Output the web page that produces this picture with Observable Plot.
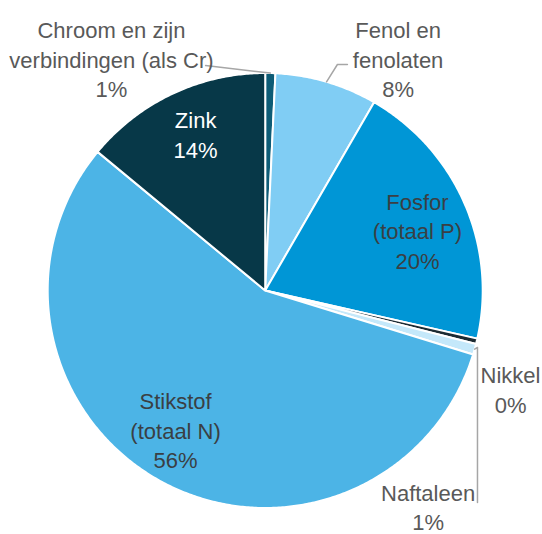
<!DOCTYPE html>
<html>
<head>
<meta charset="utf-8">
<script src="https://cdn.jsdelivr.net/npm/d3@7"></script>
<script src="https://cdn.jsdelivr.net/npm/@observablehq/plot@0.6"></script>
<style>
  html, body { margin: 0; padding: 0; background: #ffffff; }
  #chart svg { display: block; overflow: visible; }
</style>
</head>
<body>
<div id="chart"></div>
<script>
// ---- Data ----
const categories = [
  "Chroom en zijn verbindingen (als Cr)",
  "Fenol en fenolaten",
  "Fosfor (totaal P)",
  "Nikkel",
  "Naftaleen",
  "Stikstof (totaal N)",
  "Zink"
];
const shares = [0.75, 7.6, 20.2, 0.4, 0.8, 56.25, 14.0];
const labelNames = [
  "Chroom en zijn\nverbindingen (als Cr)",
  "Fenol en\nfenolaten",
  "Fosfor\n(totaal P)",
  "Nikkel",
  "Naftaleen",
  "Stikstof\n(totaal N)",
  "Zink"
];
const percentLabels = ["1%", "8%", "20%", "0%", "1%", "56%", "14%"];
const sliceColors = ["#0d5c76", "#80cdf4", "#0096d6", "#1c2b33", "#c4e8fa", "#4cb4e6", "#073848"];

// ---- Layout (label anchors in unit-circle coordinates) ----
const labelAt = {
  "Chroom en zijn verbindingen (als Cr)": [-0.707, 1.067],
  "Fenol en fenolaten": [0.611, 1.067],
  "Fosfor (totaal P)": [0.700, 0.280],
  "Nikkel": [1.128, -0.451],
  "Naftaleen": [0.749, -0.99],
  "Stikstof (totaal N)": [-0.412, -0.639],
  "Zink": [-0.320, 0.722]
};
const insideText = {
  "Fosfor (totaal P)": "#3a3f44",
  "Stikstof (totaal N)": "#3a3f44",
  "Zink": "#ffffff"
};
const leaderElbows = {
  "Chroom en zijn verbindingen (als Cr)": [[-0.274, 1.034]],
  "Fenol en fenolaten": [[0.332, 1.039], [0.378, 1.039]],
  "Naftaleen": [[0.976, -0.262], [0.976, -0.975]]
};

// ---- Build slices ----
const pie = d3.pie().sort(null).value(d => d.value).startAngle(0).endAngle(2 * Math.PI);
const arcs = pie(categories.map((c, i) => ({key: c, value: shares[i]})));

const slicePoints = [];
arcs.forEach(a => {
  const key = a.data.key;
  slicePoints.push({key, x: 0, y: 0});
  const n = Math.max(4, Math.ceil((a.endAngle - a.startAngle) / (Math.PI / 360)));
  for (let k = 0; k <= n; k++) {
    const t = a.startAngle + (a.endAngle - a.startAngle) * k / n;
    slicePoints.push({key, x: Math.sin(t), y: Math.cos(t)});
  }
  slicePoints.push({key, x: 0, y: 0});
});

const labels = arcs.map((a, i) => ({
  key: a.data.key,
  text: labelNames[i] + "\n" + percentLabels[i],
  x: labelAt[a.data.key][0],
  y: labelAt[a.data.key][1],
  color: insideText[a.data.key] || "#595959"
}));

const leaders = [];
arcs.forEach(a => {
  const el = leaderElbows[a.data.key];
  if (!el) return;
  const mid = (a.startAngle + a.endAngle) / 2;
  leaders.push({key: a.data.key, x: Math.sin(mid), y: Math.cos(mid)});
  el.forEach(p => leaders.push({key: a.data.key, x: p[0], y: p[1]}));
});

const chart = Plot.plot({
  width: 542,
  height: 534,
  margin: 0,
  style: {fontFamily: "'Liberation Sans', Arial, sans-serif", background: "#ffffff"},
  x: {domain: [-1, 1], range: [47.2, 482.2], axis: null},
  y: {domain: [-1, 1], range: [507.5, 72.5], axis: null},
  color: {domain: categories, range: sliceColors},
  marks: [
    Plot.line(slicePoints, {
      x: "x", y: "y", z: "key",
      fill: "key",
      stroke: "#ffffff",
      strokeWidth: 2,
      strokeLinejoin: "round",
      curve: "linear"
    }),
    Plot.line(leaders, {
      x: "x", y: "y", z: "key",
      stroke: "#a6a6a6",
      strokeWidth: 1.5,
      curve: "linear"
    }),
    Plot.text(labels, {
      x: "x", y: "y",
      text: "text",
      fill: d => d.color,
      fontSize: 22,
      lineHeight: 1.34,
      textAnchor: "middle",
      lineAnchor: "middle"
    })
  ]
});

document.getElementById("chart").appendChild(chart);
</script>
</body>
</html>
